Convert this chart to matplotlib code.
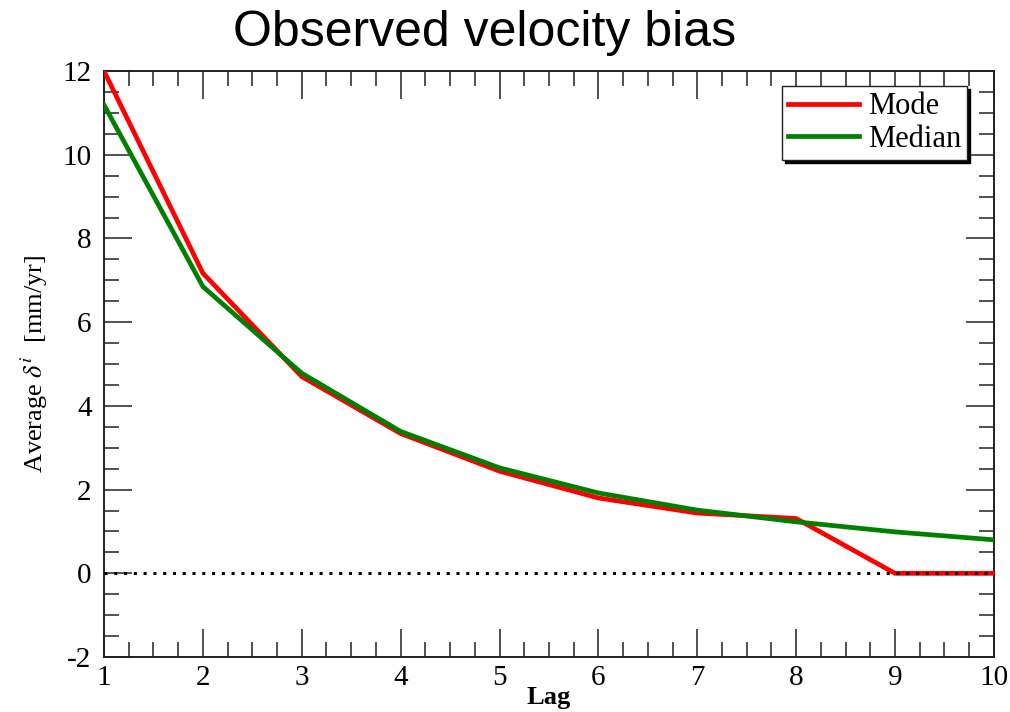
import matplotlib
matplotlib.use("Agg")
import matplotlib.pyplot as plt
from matplotlib.ticker import MultipleLocator

# values
lags = [1, 2, 3, 4, 5, 6, 7, 8, 9, 10]
mode = [12.0, 7.17, 4.70, 3.34, 2.44, 1.80, 1.44, 1.31, 0.0, 0.0]
median = [11.19, 6.85, 4.78, 3.39, 2.52, 1.92, 1.51, 1.23, 0.99, 0.80]
zero_line = [0, 0]

plt.rcParams['font.family'] = ['Liberation Serif', 'DejaVu Serif']
plt.rcParams['mathtext.fontset'] = 'stix'
plt.rcParams['axes.unicode_minus'] = False

fig = plt.figure(figsize=(10.1, 7.12), dpi=100)
ax = fig.add_axes([0.103, 0.0772, 0.881, 0.823])

ax.plot(lags, mode, color='#ff0000', lw=3.4, label='Mode', zorder=3)
ax.plot(lags, median, color='#008000', lw=3.4, label='Median', zorder=3)
ax.plot([lags[0], lags[-1]], zero_line, color='black', lw=2.2,
        linestyle=(0, (1, 2.2)), zorder=4)

ax.set_xlim(1, 10)
ax.set_ylim(-2, 12)
ax.xaxis.set_major_locator(MultipleLocator(1))
ax.xaxis.set_minor_locator(MultipleLocator(0.25))
ax.yaxis.set_major_locator(MultipleLocator(2))
ax.yaxis.set_minor_locator(MultipleLocator(0.5))
ax.tick_params(which='both', direction='in', top=True, right=True,
               color='#222222', width=1.1, labelsize=21)
ax.tick_params(which='major', length=20)
ax.tick_params(which='minor', length=11)
ax.tick_params(axis='x', pad=6)
ax.tick_params(axis='y', pad=9)
for s in ax.spines.values():
    s.set_linewidth(1.4)
    s.set_color('#222222')

ax.set_xlabel('Lag', fontsize=19, fontweight='bold', labelpad=-4)
ax.set_ylabel(r'Average $\delta^i$  [mm/yr]', fontsize=19, labelpad=9)

leg = ax.legend(loc='upper right', bbox_to_anchor=(0.970, 0.974),
                borderaxespad=0, fancybox=False, fontsize=22,
                handlelength=2.3, handletextpad=0.3, borderpad=0.2,
                labelspacing=0.12, shadow={'color': 'black', 'alpha': 1})
leg.get_frame().set_edgecolor('#222222')
leg.get_frame().set_linewidth(1.0)

fig.text(0.48, 0.953, 'Observed velocity bias', ha='center', va='center',
         fontsize=36, family='Liberation Sans')

fig.savefig('out.png', dpi=100)
